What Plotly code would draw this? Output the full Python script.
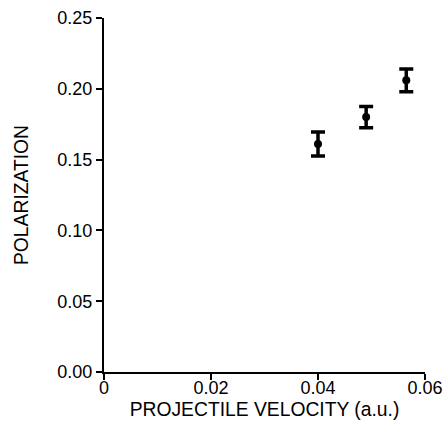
import plotly.graph_objects as go

velocity = [0.0400, 0.0490, 0.0565]
polarization = [0.161, 0.180, 0.206]
pol_err = [0.0085, 0.0075, 0.008]

x_tickvals = [0, 0.02, 0.04, 0.06]
x_ticktext = ["0", "0.02", "0.04", "0.06"]
y_tickvals = [0, 0.05, 0.10, 0.15, 0.20, 0.25]
y_ticktext = ["0.00", "0.05", "0.10", "0.15", "0.20", "0.25"]

fig = go.Figure()
fig.add_trace(go.Scatter(
    x=velocity, y=polarization, mode="markers",
    marker=dict(symbol="circle", size=8, color="black"),
    error_y=dict(type="data", array=pol_err, visible=True,
                 color="black", thickness=3.5, width=7),
    showlegend=False,
))

fam = "Liberation Sans, Arial, sans-serif"
tickfont = dict(family=fam, size=18, color="black")
titlefont = dict(family=fam, size=19.3, color="black")
fig.update_layout(
    width=448, height=432,
    margin=dict(l=104, r=23, t=18, b=60),
    paper_bgcolor="white", plot_bgcolor="white",
    xaxis=dict(
        range=[0, 0.06], tickvals=x_tickvals, ticktext=x_ticktext,
        tickfont=tickfont, automargin=False, ticklabelstandoff=-8,
        showline=True, linecolor="black", linewidth=2,
        ticks="outside", ticklen=6, tickwidth=2, tickcolor="black",
        showgrid=False, zeroline=False,
        title=dict(text="PROJECTILE VELOCITY (a.u.)", standoff=6, font=titlefont),
    ),
    yaxis=dict(
        range=[0, 0.25], tickvals=y_tickvals, ticktext=y_ticktext,
        tickfont=tickfont, automargin=False,
        showline=True, linecolor="black", linewidth=2,
        ticks="outside", ticklen=6, tickwidth=2, tickcolor="black",
        showgrid=False, zeroline=False,
        title=dict(text="POLARIZATION", standoff=24, font=titlefont),
    ),
)
fig.write_html("out.html")
